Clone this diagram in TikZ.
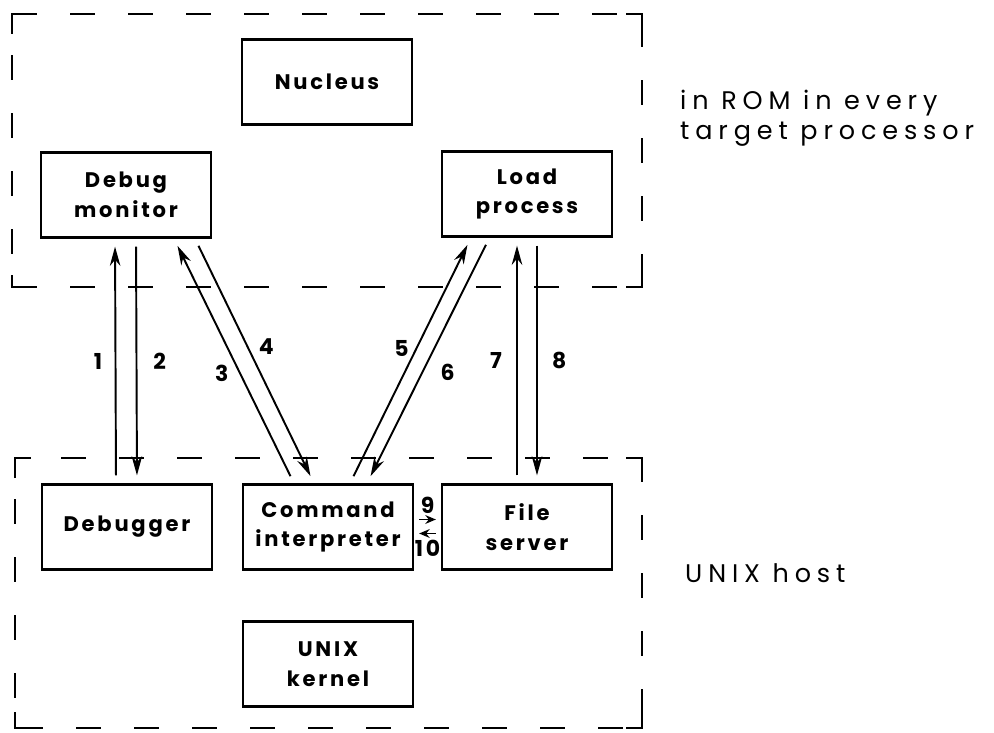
\documentclass[tikz,border=0pt]{standalone}
\usepackage{fontspec}
\setmainfont{Poppins}
\newfontfamily\lettering{Poppins}[LetterSpace=13]
\newfontfamily\wideletters{Poppins}[LetterSpace=23]
\usetikzlibrary{arrows.meta}
\usetikzlibrary{positioning}

\tikzset{
    block/.style={draw, line width=1.3pt, minimum width=3.4cm, minimum height=1.7cm,
        align=center, font=\lettering\fontsize{12}{17}\selectfont\bfseries},
    group/.style={line width=1.6pt, dash pattern=on 0.5cm off 0.66cm, dash phase=0.33cm},
    msg/.style={line width=1.1pt, -{Stealth[length=11pt,width=6pt]},
        shorten >=0.16cm, shorten <=0.16cm},
    tiny msg/.style={line width=1.1pt, -{Stealth[length=6pt,width=5pt]},
        shorten >=0.1cm, shorten <=0.1cm},
    num/.style={font=\lettering\fontsize{12.5}{14}\selectfont\bfseries, inner sep=1pt},
    side/.style={anchor=west, align=left, font=\wideletters\fontsize{14.5}{17}\selectfont},
}

\begin{document}
\begin{tikzpicture}[x=0.02cm, y=-0.02cm]
    \useasboundingbox (0,0) rectangle (994,733);

    % the two machines
    \draw[group] (12,14) rectangle (642,287);
    \draw[group] (15,458) rectangle (642,728);
    \draw[line width=1.6pt] (12,34) |- (28,14) (626,14) -| (642,30)
        (642,271) |- (626,287) (28,287) -| (12,275);
    \draw[line width=1.6pt] (15,478) |- (31,458) (626,458) -| (642,474)
        (642,712) |- (626,728) (31,728) -| (15,712);

    \node[block] (nuc) at (327,82) {Nucleus};
    \node[block] (dm) at (126,195) {Debug\\monitor};
    \node[block] (lp) at (527,194) {Load\\process};
    \node[block] (dbg) at (127,527) {Debugger};
    \node[block] (ci) at (328,527) {Command\\interpreter};
    \node[block] (fs) at (527,527) {File\\server};
    \node[block] (uk) at (328,664) {UNIX\\kernel};

    \node[side] (rom) at (674,118) {in ROM in every\\target processor};
    \node[side] (host) at (679,573) {UNIX host};

    % messages
    \draw[msg] ([xshift=-0.22cm]dbg.north) -- node[num,left=6pt]{1} ([xshift=-0.22cm]dm.south);
    \draw[msg] ([xshift=0.2cm]dm.south) -- node[num,right=8pt]{2} ([xshift=0.2cm]dbg.north);
    \draw[msg] ([xshift=-0.68cm]ci.north) -- node[num,pos=0.45,left=5pt]{3} ([xshift=0.96cm]dm.south);
    \draw[msg] ([xshift=1.38cm]dm.south) -- node[num,pos=0.44,right=5pt]{4} ([xshift=-0.28cm]ci.north);
    \draw[msg] ([xshift=0.44cm]ci.north) -- node[num,pos=0.55,left=3pt]{5} ([xshift=-1.12cm]lp.south);
    \draw[msg] ([xshift=-0.75cm]lp.south) -- node[num,pos=0.55,right=9pt]{6} ([xshift=0.78cm]ci.north);
    \draw[msg] ([xshift=-0.2cm]fs.north) -- node[num,left=7pt]{7} ([xshift=-0.2cm]lp.south);
    \draw[msg] ([xshift=0.2cm]lp.south) -- node[num,right=7pt]{8} ([xshift=0.2cm]fs.north);
    \draw[tiny msg] ([yshift=0.15cm]ci.east) -- node[num,above=2pt]{9} ([yshift=0.15cm]fs.west);
    \draw[tiny msg] ([yshift=-0.13cm]fs.west) -- node[num,below=2pt]{10} ([yshift=-0.13cm]ci.east);
\end{tikzpicture}
\end{document}
